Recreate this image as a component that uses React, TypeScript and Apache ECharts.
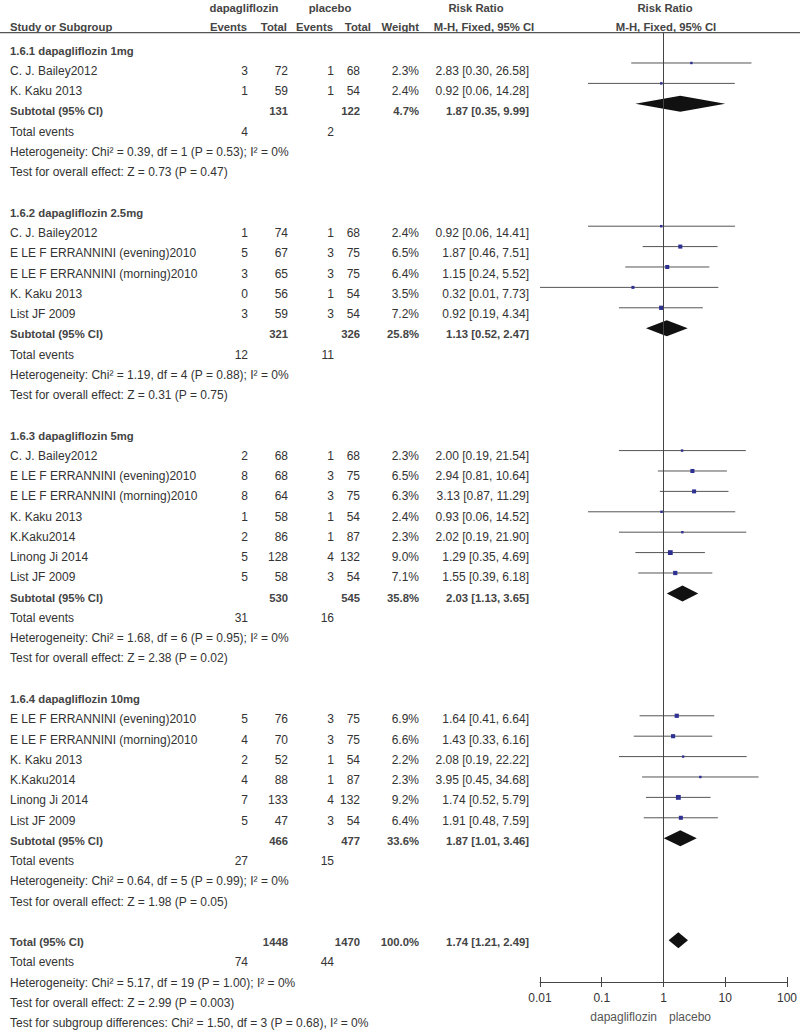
import React, { useEffect, useRef } from 'react';
import * as echarts from 'echarts';

// ---------- DATA ----------
const groupLabels = [
  '1.6.1 dapagliflozin 1mg',
  '1.6.2 dapagliflozin 2.5mg',
  '1.6.3 dapagliflozin 5mg',
  '1.6.4 dapagliflozin 10mg',
];

// [name, dapaEvents, dapaTotal, placeboEvents, placeboTotal, weight%, RR, lower, upper]
const studies1mg = [
  ['C. J. Bailey2012', 3, 72, 1, 68, 2.3, 2.83, 0.30, 26.58],
  ['K. Kaku 2013', 1, 59, 1, 54, 2.4, 0.92, 0.06, 14.28],
];
const studies2_5mg = [
  ['C. J. Bailey2012', 1, 74, 1, 68, 2.4, 0.92, 0.06, 14.41],
  ['E LE F ERRANNINI (evening)2010', 5, 67, 3, 75, 6.5, 1.87, 0.46, 7.51],
  ['E LE F ERRANNINI (morning)2010', 3, 65, 3, 75, 6.4, 1.15, 0.24, 5.52],
  ['K. Kaku 2013', 0, 56, 1, 54, 3.5, 0.32, 0.01, 7.73],
  ['List JF 2009', 3, 59, 3, 54, 7.2, 0.92, 0.19, 4.34],
];
const studies5mg = [
  ['C. J. Bailey2012', 2, 68, 1, 68, 2.3, 2.00, 0.19, 21.54],
  ['E LE F ERRANNINI (evening)2010', 8, 68, 3, 75, 6.5, 2.94, 0.81, 10.64],
  ['E LE F ERRANNINI (morning)2010', 8, 64, 3, 75, 6.3, 3.13, 0.87, 11.29],
  ['K. Kaku 2013', 1, 58, 1, 54, 2.4, 0.93, 0.06, 14.52],
  ['K.Kaku2014', 2, 86, 1, 87, 2.3, 2.02, 0.19, 21.90],
  ['Linong Ji 2014', 5, 128, 4, 132, 9.0, 1.29, 0.35, 4.69],
  ['List JF 2009', 5, 58, 3, 54, 7.1, 1.55, 0.39, 6.18],
];
const studies10mg = [
  ['E LE F ERRANNINI (evening)2010', 5, 76, 3, 75, 6.9, 1.64, 0.41, 6.64],
  ['E LE F ERRANNINI (morning)2010', 4, 70, 3, 75, 6.6, 1.43, 0.33, 6.16],
  ['K. Kaku 2013', 2, 52, 1, 54, 2.2, 2.08, 0.19, 22.22],
  ['K.Kaku2014', 4, 88, 1, 87, 2.3, 3.95, 0.45, 34.68],
  ['Linong Ji 2014', 7, 133, 4, 132, 9.2, 1.74, 0.52, 5.79],
  ['List JF 2009', 5, 47, 3, 54, 6.4, 1.91, 0.48, 7.59],
];
const groupStudies = [studies1mg, studies2_5mg, studies5mg, studies10mg];

// [dapaTotal, placeboTotal, weight%, RR, lower, upper]
const subtotals = [
  [131, 122, 4.7, 1.87, 0.35, 9.99],
  [321, 326, 25.8, 1.13, 0.52, 2.47],
  [530, 545, 35.8, 2.03, 1.13, 3.65],
  [466, 477, 33.6, 1.87, 1.01, 3.46],
];
const subtotalEvents = [
  [4, 2],
  [12, 11],
  [31, 16],
  [27, 15],
];
const heterogeneityTexts = [
  'Heterogeneity: Chi² = 0.39, df = 1 (P = 0.53); I² = 0%',
  'Heterogeneity: Chi² = 1.19, df = 4 (P = 0.88); I² = 0%',
  'Heterogeneity: Chi² = 1.68, df = 6 (P = 0.95); I² = 0%',
  'Heterogeneity: Chi² = 0.64, df = 5 (P = 0.99); I² = 0%',
];
const effectTexts = [
  'Test for overall effect: Z = 0.73 (P = 0.47)',
  'Test for overall effect: Z = 0.31 (P = 0.75)',
  'Test for overall effect: Z = 2.38 (P = 0.02)',
  'Test for overall effect: Z = 1.98 (P = 0.05)',
];
const overallTotal = [1448, 1470, 100.0, 1.74, 1.21, 2.49];
const overallEvents = [74, 44];
const overallHeterogeneity = 'Heterogeneity: Chi² = 5.17, df = 19 (P = 1.00); I² = 0%';
const overallEffect = 'Test for overall effect: Z = 2.99 (P = 0.003)';
const subgroupDifferences = 'Test for subgroup differences: Chi² = 1.50, df = 3 (P = 0.68), I² = 0%';
const axisRange = [0.01, 100];
const favoursLabels = ['dapagliflozin', 'placebo'];

// ---------- LAYOUT ----------
const FONT = '"Liberation Sans", Arial, Helvetica, sans-serif';
const TEXT = '#333';
const BOLD_TEXT = '#444';
const COL = { name: 10, e1: 248, n1: 288, e2: 334, n2: 360, w: 419, ci: 529 };

const fmtCI = (rr: number, lo: number, hi: number) =>
  `${rr.toFixed(2)} [${lo.toFixed(2)}, ${hi.toFixed(2)}]`;
const fmtW = (w: number) => `${w.toFixed(1)}%`;

type Cell = { t: string; x: number; align: 'left' | 'right' | 'center' };
type TextRow = { row: number; bold: boolean; cells: Cell[] };

function buildRows() {
  const textRows: TextRow[] = [];
  const studyMarks: number[][] = [];
  const diamondMarks: number[][] = [];
  let r = 0;
  groupStudies.forEach((studies, g) => {
    textRows.push({ row: r, bold: true, cells: [{ t: groupLabels[g], x: COL.name, align: 'left' }] });
    r++;
    studies.forEach((s: any[]) => {
      textRows.push({
        row: r,
        bold: false,
        cells: [
          { t: s[0], x: COL.name, align: 'left' },
          { t: String(s[1]), x: COL.e1, align: 'right' },
          { t: String(s[2]), x: COL.n1, align: 'right' },
          { t: String(s[3]), x: COL.e2, align: 'right' },
          { t: String(s[4]), x: COL.n2, align: 'right' },
          { t: fmtW(s[5]), x: COL.w, align: 'right' },
          { t: fmtCI(s[6], s[7], s[8]), x: COL.ci, align: 'right' },
        ],
      });
      studyMarks.push([s[7], s[8], s[6], r, s[5]]);
      r++;
    });
    const st = subtotals[g];
    textRows.push({
      row: r,
      bold: true,
      cells: [
        { t: 'Subtotal (95% CI)', x: COL.name, align: 'left' },
        { t: String(st[0]), x: COL.n1, align: 'right' },
        { t: String(st[1]), x: COL.n2, align: 'right' },
        { t: fmtW(st[2]), x: COL.w, align: 'right' },
        { t: fmtCI(st[3], st[4], st[5]), x: COL.ci, align: 'right' },
      ],
    });
    diamondMarks.push([st[4], st[5], st[3], r]);
    r++;
    textRows.push({
      row: r,
      bold: false,
      cells: [
        { t: 'Total events', x: COL.name, align: 'left' },
        { t: String(subtotalEvents[g][0]), x: COL.e1, align: 'right' },
        { t: String(subtotalEvents[g][1]), x: COL.e2, align: 'right' },
      ],
    });
    r++;
    textRows.push({ row: r, bold: false, cells: [{ t: heterogeneityTexts[g], x: COL.name, align: 'left' }] });
    r++;
    textRows.push({ row: r, bold: false, cells: [{ t: effectTexts[g], x: COL.name, align: 'left' }] });
    r += 2;
  });
  textRows.push({
    row: r,
    bold: true,
    cells: [
      { t: 'Total (95% CI)', x: COL.name, align: 'left' },
      { t: String(overallTotal[0]), x: COL.n1, align: 'right' },
      { t: String(overallTotal[1]), x: COL.n2, align: 'right' },
      { t: fmtW(overallTotal[2]), x: COL.w, align: 'right' },
      { t: fmtCI(overallTotal[3], overallTotal[4], overallTotal[5]), x: COL.ci, align: 'right' },
    ],
  });
  diamondMarks.push([overallTotal[4], overallTotal[5], overallTotal[3], r]);
  r++;
  textRows.push({
    row: r,
    bold: false,
    cells: [
      { t: 'Total events', x: COL.name, align: 'left' },
      { t: String(overallEvents[0]), x: COL.e1, align: 'right' },
      { t: String(overallEvents[1]), x: COL.e2, align: 'right' },
    ],
  });
  r++;
  textRows.push({ row: r, bold: false, cells: [{ t: overallHeterogeneity, x: COL.name, align: 'left' }] });
  r++;
  textRows.push({ row: r, bold: false, cells: [{ t: overallEffect, x: COL.name, align: 'left' }] });
  r++;
  textRows.push({ row: r, bold: false, cells: [{ t: subgroupDifferences, x: COL.name, align: 'left' }] });
  return { textRows, studyMarks, diamondMarks };
}

function txt(t: string, x: number, y: number, align: string, bold: boolean, color?: string, size?: number) {
  return {
    type: 'text',
    x,
    y,
    style: {
      text: t,
      fill: color || (bold ? BOLD_TEXT : TEXT),
      fontFamily: FONT,
      fontSize: size || (bold ? 11.3 : 12),
      fontWeight: bold ? 'bold' : 'normal',
      align,
      textAlign: align,
      verticalAlign: 'middle',
      textVerticalAlign: 'middle',
    },
  };
}

export default function App() {
  const ref = useRef<HTMLDivElement>(null);
  useEffect(() => {
    if (!ref.current) return;
    const chart = echarts.init(ref.current, null, { renderer: 'svg' });
    const { textRows, studyMarks, diamondMarks } = buildRows();

    const headerGraphics = [
      txt('dapagliflozin', 244, 8, 'center', true),
      txt('placebo', 330, 8, 'center', true),
      txt('Risk Ratio', 476, 8, 'center', true),
      txt('Risk Ratio', 665, 8, 'center', true),
      txt('Study or Subgroup', 10, 27, 'left', true),
      txt('Events', 247, 27, 'right', true),
      txt('Total', 287, 27, 'right', true),
      txt('Events', 333, 27, 'right', true),
      txt('Total', 371, 27, 'right', true),
      txt('Weight', 419, 27, 'right', true),
      txt('M-H, Fixed, 95% CI', 484, 27, 'center', true),
      txt('M-H, Fixed, 95% CI', 666, 27, 'center', true),
      {
        type: 'line',
        shape: { x1: 0, y1: 32.7, x2: 800, y2: 32.7 },
        style: { stroke: '#555', lineWidth: 1.2 },
      },
      txt(favoursLabels[0], 657, 1017, 'right', false, '#555'),
      txt(favoursLabels[1], 669, 1017, 'left', false, '#555'),
    ];

    const option: any = {
      animation: false,
      grid: [
        { left: 540, right: 11, top: 32.7, height: 949.3 },
        { left: 0, top: 0, width: 800, height: 1033 },
      ],
      xAxis: [
        {
          type: 'log',
          logBase: 10,
          gridIndex: 0,
          position: 'bottom',
          min: axisRange[0],
          max: axisRange[1],
          axisLine: { onZero: false, lineStyle: { color: '#444', width: 1 } },
          axisTick: { show: true, inside: false, length: 5, lineStyle: { color: '#444' } },
          axisLabel: {
            color: TEXT,
            fontFamily: FONT,
            fontSize: 12,
            margin: 10,
            formatter: (v: number) => String(Number(v.toPrecision(3))),
          },
          splitLine: { show: false },
        },
        {
          type: 'log',
          logBase: 10,
          gridIndex: 0,
          position: 'bottom',
          offset: 0,
          min: axisRange[0],
          max: axisRange[1],
          axisLine: { show: false, onZero: false },
          axisTick: { show: true, inside: true, length: 5, lineStyle: { color: '#444' } },
          axisLabel: { show: false },
          splitLine: { show: false },
        },
        { type: 'value', gridIndex: 1, min: 0, max: 800, show: false },
      ],
      yAxis: [
        { type: 'value', gridIndex: 0, min: -0.485, max: 46.05, inverse: true, show: false },
        { type: 'value', gridIndex: 1, min: -2.5025, max: 48.485, inverse: true, show: false },
      ],
      graphic: headerGraphics,
      series: [
        {
          type: 'custom',
          name: 'studies',
          xAxisIndex: 0,
          yAxisIndex: 0,
          data: studyMarks,
          encode: { x: [0, 1, 2], y: 3 },
          silent: true,
          renderItem: (params: any, api: any) => {
            const row = api.value(3);
            const a = api.coord([api.value(0), row]);
            const b = api.coord([api.value(1), row]);
            const c = api.coord([api.value(2), row]);
            const size = Math.max(2, 1.6 * Math.sqrt(api.value(4)));
            return {
              type: 'group',
              children: [
                {
                  type: 'line',
                  shape: { x1: a[0], y1: a[1], x2: b[0], y2: b[1] },
                  style: { stroke: '#555', lineWidth: 1 },
                },
                {
                  type: 'rect',
                  shape: { x: c[0] - size / 2, y: c[1] - size / 2, width: size, height: size },
                  style: { fill: '#2e3192' },
                },
              ],
            };
          },
        },
        {
          type: 'custom',
          name: 'pooled',
          xAxisIndex: 0,
          yAxisIndex: 0,
          data: diamondMarks,
          encode: { x: [0, 1, 2], y: 3 },
          silent: true,
          renderItem: (params: any, api: any) => {
            const row = api.value(3);
            const a = api.coord([api.value(0), row]);
            const b = api.coord([api.value(1), row]);
            const c = api.coord([api.value(2), row]);
            const h = 8;
            return {
              type: 'polygon',
              shape: {
                points: [
                  [a[0], a[1]],
                  [c[0], c[1] - h],
                  [b[0], b[1]],
                  [c[0], c[1] + h],
                ],
              },
              style: { fill: '#111' },
            };
          },
          markLine: {
            silent: true,
            symbol: 'none',
            label: { show: false },
            lineStyle: { color: '#444', type: 'solid', width: 1 },
            data: [{ xAxis: 1 }],
          },
        },
        {
          type: 'custom',
          name: 'table',
          xAxisIndex: 2,
          yAxisIndex: 1,
          data: textRows.map((r) => [0, r.row]),
          encode: { x: 0, y: 1 },
          silent: true,
          clip: false,
          renderItem: (params: any, api: any) => {
            const tr = textRows[params.dataIndex];
            const y = api.coord([0, api.value(1)])[1];
            return {
              type: 'group',
              children: tr.cells.map((c) => txt(c.t, c.x, y, c.align, tr.bold)),
            };
          },
        },
      ],
    };
    chart.setOption(option);
    return () => chart.dispose();
  }, []);
  return (
    <div
      ref={ref}
      style={{ position: 'absolute', left: 0, top: 0, width: 800, height: 1033, background: '#fff' }}
    />
  );
}
